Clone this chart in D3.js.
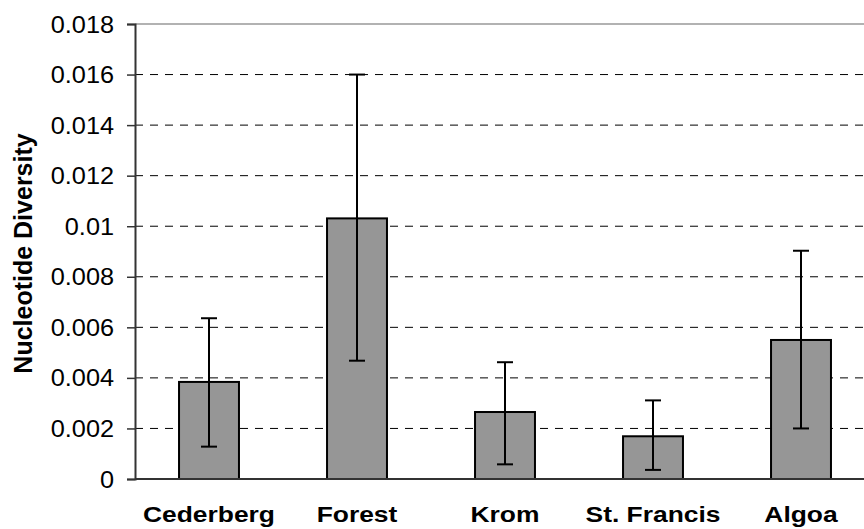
<!DOCTYPE html>
<html>
<head>
<meta charset="utf-8">
<script src="https://cdn.jsdelivr.net/npm/d3@7"></script>
<style>
  html, body { margin: 0; padding: 0; background: #fff; }
  svg { display: block; font-family: "Liberation Sans", Arial, sans-serif; }
</style>
</head>
<body>
<svg id="chart" width="864" height="529"></svg>
<script>
// data
var categories = ["Cederberg", "Forest", "Krom", "St. Francis", "Algoa"];
var diversity = [0.00384, 0.01031, 0.00265, 0.00169, 0.0055];
var errLow = [0.00128, 0.00468, 0.00058, 0.00036, 0.0020];
var errHigh = [0.00636, 0.0160, 0.00462, 0.00311, 0.00903];
var yTicks = [0, 0.002, 0.004, 0.006, 0.008, 0.01, 0.012, 0.014, 0.016, 0.018];

var svg = d3.select("#chart");
var plotLeft = 135, plotTop = 24, plotBottom = 479, plotRight = 875;

var x = d3.scaleBand().domain(categories).range([plotLeft, plotRight]).paddingInner(0.595).paddingOuter(0.2975);
var y = d3.scaleLinear().domain([0, 0.018]).range([plotBottom, plotTop]);

// grid lines
svg.append("g").selectAll("line")
    .data(yTicks.filter(function (d) { return d > 0 && d < 0.018; }))
    .join("line")
    .attr("x1", plotLeft).attr("x2", 864)
    .attr("y1", function (d) { return y(d); })
    .attr("y2", function (d) { return y(d); })
    .attr("stroke", "#000").attr("stroke-width", 1)
    .attr("stroke-dasharray", "8,7");

// top border
svg.append("line")
    .attr("x1", plotLeft).attr("x2", 864)
    .attr("y1", y(0.018)).attr("y2", y(0.018))
    .attr("stroke", "#999").attr("stroke-width", 1.5);

// bars
svg.append("g").selectAll("rect")
    .data(categories)
    .join("rect")
    .attr("x", function (d) { return x(d); })
    .attr("width", x.bandwidth())
    .attr("y", function (d, i) { return y(diversity[i]); })
    .attr("height", function (d, i) { return y(0) - y(diversity[i]); })
    .attr("fill", "#969696")
    .attr("stroke", "#000").attr("stroke-width", 2);

// error bars
var eb = svg.append("g").attr("stroke", "#000").attr("stroke-width", 2);
categories.forEach(function (c, i) {
    var cx = x(c) + x.bandwidth() / 2;
    eb.append("line").attr("x1", cx).attr("x2", cx)
        .attr("y1", y(errLow[i])).attr("y2", y(errHigh[i]));
    [errLow[i], errHigh[i]].forEach(function (v) {
        eb.append("line").attr("x1", cx - 8).attr("x2", cx + 8)
            .attr("y1", y(v)).attr("y2", y(v));
    });
});

// y axis
var yAxis = svg.append("g")
    .attr("transform", "translate(" + plotLeft + ",0)")
    .call(d3.axisLeft(y).tickValues(yTicks).tickSize(8).tickPadding(0)
        .tickFormat(function (d) { return d === 0 ? "0" : String(+d.toFixed(3)); }));
yAxis.select(".domain").attr("stroke", "#333").attr("stroke-width", 2);
yAxis.selectAll(".tick line").attr("stroke", "#333").attr("stroke-width", 1.5);
yAxis.selectAll(".tick text")
    .attr("x", null).attr("dy", null)
    .attr("transform", "translate(-21,8) scale(1.1,1)")
    .attr("font-family", "Liberation Sans, Arial, sans-serif")
    .attr("font-size", 23).attr("fill", "#000");

// x axis line
svg.append("line")
    .attr("x1", plotLeft).attr("x2", 864)
    .attr("y1", y(0)).attr("y2", y(0))
    .attr("stroke", "#333").attr("stroke-width", 2);

// category labels
svg.append("g").selectAll("text")
    .data(categories)
    .join("text")
    .attr("transform", function (d) {
        return "translate(" + (x(d) + x.bandwidth() / 2) + ",522) scale(1.2,1)";
    })
    .attr("text-anchor", "middle")
    .attr("font-weight", "bold")
    .attr("font-size", 22)
    .text(function (d) { return d; });

// y axis title
svg.append("text")
    .attr("transform", "translate(32," + ((plotTop + plotBottom) / 2 + 2) + ") rotate(-90)")
    .attr("text-anchor", "middle")
    .attr("font-weight", "bold")
    .attr("font-size", 25)
    .text("Nucleotide Diversity");
</script>
</body>
</html>
